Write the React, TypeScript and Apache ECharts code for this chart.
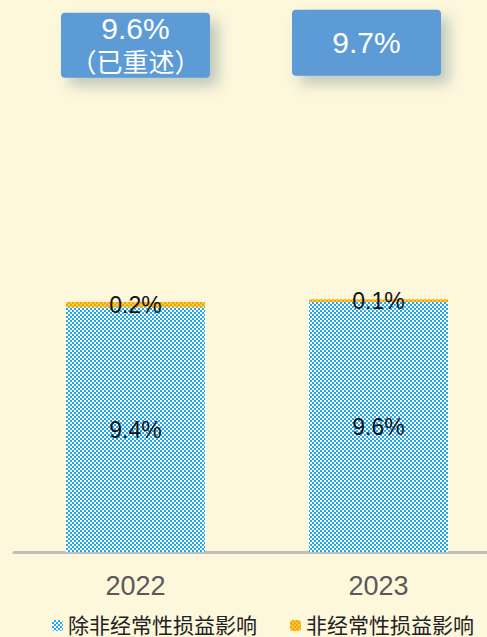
import React, { useEffect, useRef } from "react";
import * as echarts from "echarts";

const categories = ["2022", "2023"];
const coreValues = [9.4, 9.6];
const nonRecurringValues = [0.2, 0.1];
const totalLabels = ["9.6%", "9.7%"];
const totalNotes = ["（已重述）", ""];
const seriesNames = ["除非经常性损益影响", "非经常性损益影响"];
const boxLevel = [19.45, 19.55];

function checker(c1: string, c2: string): HTMLCanvasElement {
  const cv = document.createElement("canvas");
  cv.width = 4;
  cv.height = 4;
  const ctx = cv.getContext("2d")!;
  ctx.fillStyle = c1;
  ctx.fillRect(0, 0, 4, 4);
  ctx.fillStyle = c2;
  ctx.fillRect(0, 0, 2, 2);
  ctx.fillRect(2, 2, 2, 2);
  return cv;
}

const FONT = "'Liberation Sans', Arial, 'Noto Sans CJK SC', sans-serif";
const CJK = "'Noto Sans CJK SC', sans-serif";

export default function App() {
  const ref = useRef<HTMLDivElement>(null);
  useEffect(() => {
    if (!ref.current) return;
    const chart = echarts.init(ref.current, undefined, { renderer: "svg" });
    const bluePat = { image: checker("#20a8ee", "#ffffff"), repeat: "repeat" };
    const orangePat = { image: checker("#f2a600", "#fbc943"), repeat: "repeat" };
    chart.setOption({
      animation: false,
      backgroundColor: "#fdf7db",
      textStyle: { fontFamily: FONT },
      grid: { left: 14, right: 0, top: 31, bottom: 85 },
      xAxis: {
        type: "category",
        data: categories,
        axisLine: { lineStyle: { color: "#bfbfbf", width: 3 } },
        axisTick: { show: false },
        axisLabel: { color: "#595959", fontSize: 27, margin: 20, fontFamily: FONT },
      },
      yAxis: { type: "value", min: 0, max: 20, show: false, splitLine: { show: false } },
      legend: {
        left: 47,
        top: 610,
        itemWidth: 11,
        itemHeight: 11,
        itemGap: 33,
        textStyle: { fontSize: 21, color: "#222", fontFamily: FONT },
        data: seriesNames,
      },
      series: [
        {
          name: seriesNames[0],
          type: "bar",
          stack: "a",
          barWidth: 139,
          data: coreValues,
          itemStyle: { color: bluePat },
          label: {
            show: true,
            position: "inside",
            formatter: (p: any) => p.value + "%",
            color: "#111",
            fontSize: 23,
            fontFamily: FONT,
          },
        },
        {
          name: seriesNames[1],
          type: "bar",
          stack: "a",
          barWidth: 139,
          data: nonRecurringValues,
          itemStyle: { color: orangePat },
          label: {
            show: true,
            position: "inside",
            formatter: (p: any) => p.value + "%",
            color: "#111",
            fontSize: 23,
            fontFamily: FONT,
          },
        },
        {
          type: "scatter",
          symbolSize: 1,
          itemStyle: { color: "rgba(0,0,0,0)", opacity: 1 },
          silent: true,
          data: categories.map((c, i) => ({
            value: [c, boxLevel[i]],
            label: {
              show: true,
              position: "inside",
              offset: i === 1 ? [-12, 0] : [0, 0],
              formatter: totalNotes[i] ? `{a|${totalLabels[i]}}\n{b|${totalNotes[i]}}` : `{a|${totalLabels[i]}}`,
              backgroundColor: "#5b9bd5",
              borderRadius: 4,
              width: 149,
              padding: totalNotes[i] ? [0, 0, 0, 0] : [16, 0, 16, 0],
              align: "center",
              shadowBlur: 14,
              shadowColor: "rgba(70,110,130,0.35)",
              shadowOffsetX: 8,
              shadowOffsetY: 8,
              rich: {
                a: { fontSize: 30, color: "#fff", lineHeight: totalNotes[i] ? 31 : 34, align: "center", fontFamily: FONT },
                b: { fontSize: 26, color: "#fff", lineHeight: 34, align: "center", fontFamily: CJK },
              },
            },
          })),
        },
      ],
    });
    return () => chart.dispose();
  }, []);
  return (
    <div style={{ width: 487, height: 637, position: "absolute", left: 0, top: 0, overflow: "hidden" }}>
      <div ref={ref} style={{ width: 500, height: 637 }} />
    </div>
  );
}
